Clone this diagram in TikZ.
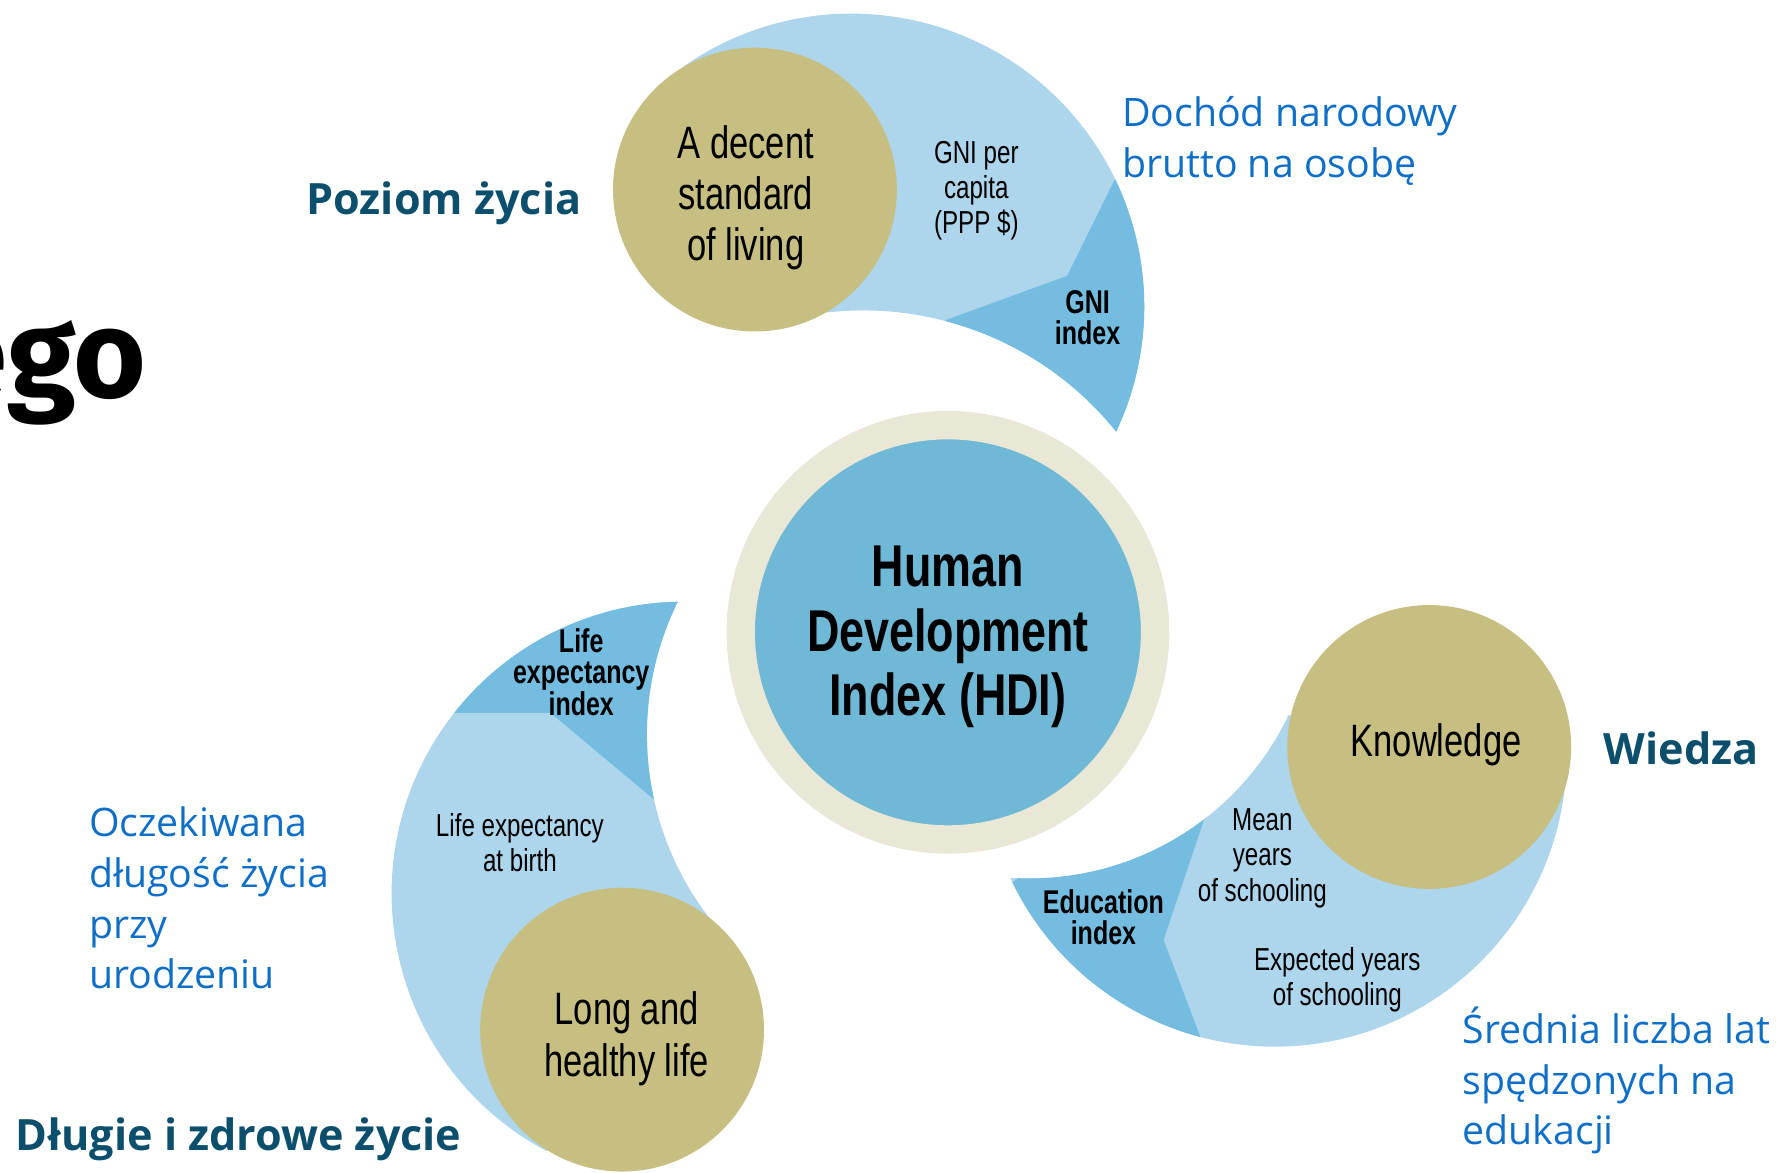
\documentclass[tikz,border=0pt]{standalone}
\usepackage{fontspec}
\setmainfont{Open Sans}
\newfontfamily\condf[FakeStretch=0.76]{Liberation Sans}
\newfontfamily\egofont{Fira Sans}
\definecolor{swirlblue}{HTML}{ADD5EC}
\definecolor{indexblue}{HTML}{74BDE1}
\definecolor{hdiblue}{HTML}{6FB8D6}
\definecolor{goldfill}{HTML}{C7BF82}
\definecolor{ringbeige}{HTML}{E9E7D5}
\definecolor{headteal}{HTML}{0B4F6C}
\definecolor{notesblue}{HTML}{0F6FC6}
% the three swirls, in picture pixels (y grows downwards)
\def\swirlT{(750,270) ++(235:258) arc[start angle=235, end angle=385.3, radius=258]
  arc[start angle=-38.8, end angle=-101.1, radius=286] -- cycle}
\def\swirlK{(1123,665) ++(0:257) arc[start angle=0, end angle=155.1, radius=257]
  arc[start angle=93.9, end angle=25.5, radius=252.6] -- cycle}
\def\swirlL{(602,787) ++(118:257) arc[start angle=118, end angle=268.9, radius=257]
  arc[start angle=206.2, end angle=141.4, radius=265] -- cycle}
\begin{document}
\begin{tikzpicture}[x=0.5pt,y=-0.5pt,
    gold/.style={circle,fill=goldfill,minimum size=125pt,inner sep=0pt},
    goldtxt/.style={align=center,inner sep=0pt,font=\condf\fontsize{20}{22.5}\selectfont},
    smalltxt/.style={align=center,inner sep=0pt,font=\condf\fontsize{14}{15.5}\selectfont},
    idxtxt/.style={align=center,inner sep=0pt,font=\condf\bfseries\fontsize{14.5}{13.8}\selectfont},
    head/.style={inner sep=0pt,text=headteal,font=\bfseries\fontsize{19}{22}\selectfont},
    note/.style={inner sep=0pt,anchor=west,align=left,text=notesblue,
      font=\fontsize{17.3}{22.3}\selectfont}]
  \useasboundingbox (0,0) rectangle (1568,1033);

  % swirls
  \fill[swirlblue] \swirlT;
  \fill[swirlblue] \swirlK;
  \fill[swirlblue] \swirlL;
  \begin{scope}
    \clip \swirlT;
    \fill[indexblue] (833,282) -- (940,243) -- (982,158) -- (1060,120) -- (1060,450) -- (833,300) -- cycle;
  \end{scope}
  \begin{scope}
    \clip \swirlK;
    \fill[indexblue] (1062,718) -- (1025,828) -- (1058,915) -- (1000,980) -- (860,800) -- (1000,700) -- cycle;
  \end{scope}
  \begin{scope}
    \clip \swirlL;
    \fill[indexblue] (398,628) -- (485,628) -- (577,705) -- (650,705) -- (650,480) -- (350,480) -- (350,628) -- cycle;
  \end{scope}

  % dimensions
  \node[gold] (living) at (665,167) {};
  \node[gold] (knowledge) at (1259,658) {};
  \node[gold] (health) at (548,907) {};
  \node[goldtxt] (livingtxt) at (657,174) {A decent\\standard\\of living};
  \node[goldtxt] (knowledgetxt) at (1265,656) {Knowledge};
  \node[goldtxt] (healthtxt) at (552,915) {Long and\\healthy life};

  % HDI
  \node[circle,fill=hdiblue,draw=ringbeige,line width=12.5pt,minimum size=182.5pt] (hdi) at (835,557) {};
  \node[align=center,inner sep=0pt,font=\condf\bfseries\fontsize{26}{28.5}\selectfont] (hditxt) at (835,561)
    {Human\\Development\\Index (HDI)};

  % indicators
  \node[smalltxt] (gni) at (860,168) {GNI per\\capita\\(PPP \$)};
  \node[idxtxt] (gniidx) at (958,280) {GNI\\index};
  \node[smalltxt] (mys) at (1112,756) {Mean\\years\\of schooling};
  \node[smalltxt] (eys) at (1178,863) {Expected years\\of schooling};
  \node[idxtxt] (eduidx) at (972,808) {Education\\index};
  \node[idxtxt] (leidx) at (512,592) {Life\\expectancy\\index};
  \node[smalltxt] (leb) at (458,742) {Life expectancy\\at birth};

  % polish labels
  \node[head] (poziom) at (391,179) {Poziom życia};
  \node[head] (wiedza) at (1481,659) {Wiedza};
  \node[head] (dlugie) at (210,1004) {Długie i zdrowe życie};
  \node[note] (dochod) at (988,124) {Dochód narodowy\\brutto na osobę};
  \node[note] (oczek) at (78,791) {Oczekiwana\\długość życia\\przy\\urodzeniu};
  \node[note] (srednia) at (1288,952) {Średnia liczba lat\\spędzonych na\\edukacji};

  \node[anchor=base east,inner sep=0pt,font=\egofont\bfseries\fontsize{55}{60}\selectfont] (ego) at (129,350) {ego};
\end{tikzpicture}
\end{document}
